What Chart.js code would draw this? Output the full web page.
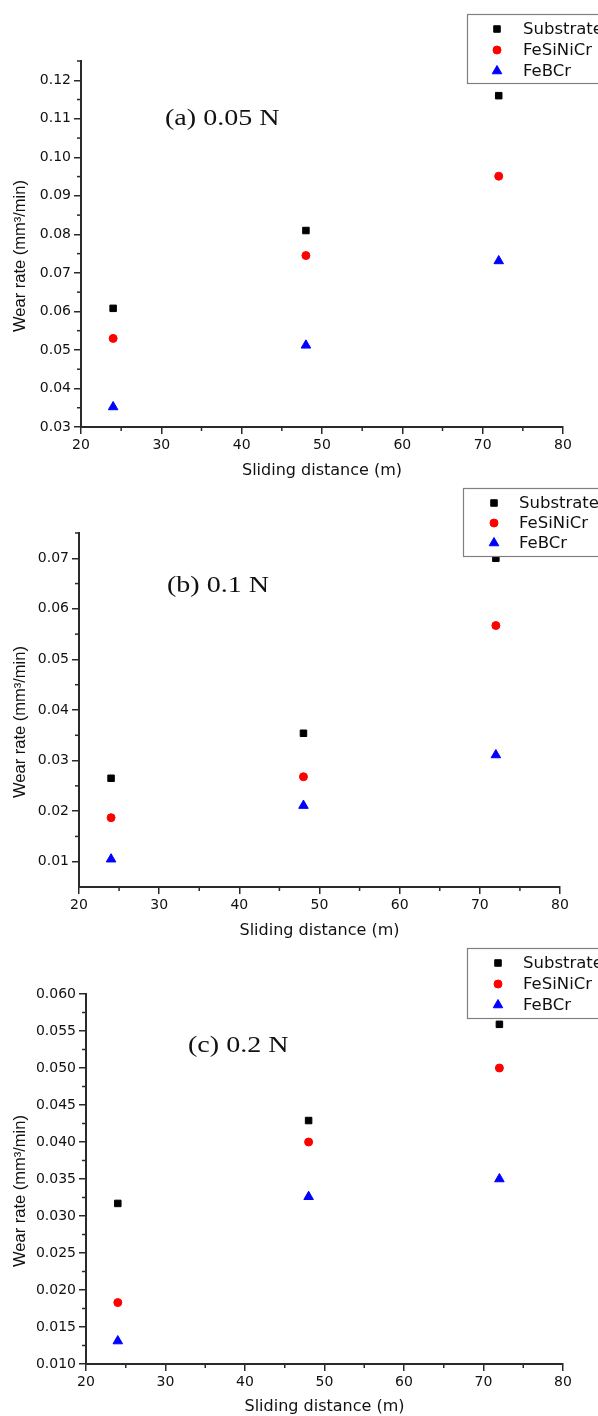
<!DOCTYPE html>
<html lang="en">
  <head>
    <meta charset="utf-8" />
    <title>Wear rate vs sliding distance</title>
    <style>
      * { margin: 0; padding: 0; }
      body { width: 598px; height: 1416px; background: #fff; position: relative; overflow: hidden; }
      canvas { position: absolute; left: 0; }
    </style>
  </head>
  <body>
    <canvas id="chartA" width="598" height="480" style="top:0px"></canvas>
    <canvas id="chartB" width="598" height="460" style="top:480px"></canvas>
    <canvas id="chartC" width="598" height="476" style="top:940px"></canvas>

    <script src="https://cdn.jsdelivr.net/npm/chart.js"></script>
    <script>
      // sliding distance (m)
      const distance = [24, 48, 72];
      const seriesNames = ["Substrate", "FeSiNiCr", "FeBCr"];

      // (a) 0.05 N
      const substrateA = [0.0608, 0.081, 0.116];
      const feSiNiCrA = [0.053, 0.0745, 0.0951];
      const feBCrA = [0.0352, 0.0512, 0.0731];
      // (b) 0.1 N
      const substrateB = [0.0265, 0.0354, 0.07];
      const feSiNiCrB = [0.0187, 0.0268, 0.0567];
      const feBCrB = [0.0105, 0.0211, 0.0311];
      // (c) 0.2 N
      const substrateC = [0.0317, 0.0429, 0.0559];
      const feSiNiCrC = [0.0183, 0.04, 0.05];
      const feBCrC = [0.0131, 0.0326, 0.035];

      const xTicks = [20, 30, 40, 50, 60, 70, 80];
      const yTicksA = [0.03, 0.04, 0.05, 0.06, 0.07, 0.08, 0.09, 0.1, 0.11, 0.12];
      const yTicksB = [0.01, 0.02, 0.03, 0.04, 0.05, 0.06, 0.07];
      const yTicksC = [0.01, 0.015, 0.02, 0.025, 0.03, 0.035, 0.04, 0.045, 0.05, 0.055, 0.06];

      const SANS = "'DejaVu Sans', sans-serif";
      const AXIS = "#2a2a2a";
      const TEXT = "#111";

      const styles = [
        { pointStyle: "rect", radius: 4.6, color: "#000000" },
        { pointStyle: "circle", radius: 4, color: "#ff0000" },
        { pointStyle: "triangle", radius: 5.5, color: "#0000ff" },
      ];

      function pts(ys) {
        return distance.map((x, i) => ({ x: x, y: ys[i] }));
      }

      function drawMarker(ctx, st, x, y) {
        ctx.save();
        ctx.fillStyle = st.color;
        ctx.strokeStyle = st.color;
        ctx.lineWidth = 1;
        if (Chart.helpers && Chart.helpers.drawPoint) {
          Chart.helpers.drawPoint(ctx, { pointStyle: st.pointStyle, radius: st.radius, borderWidth: 1, rotation: 0 }, x, y);
        }
        ctx.restore();
      }

      // minor ticks, y title, panel label and the boxed legend
      const decor = {
        id: "decor",
        afterDraw(chart, args, opts) {
          const { ctx, chartArea: { left, right, top, bottom }, scales: { x, y } } = chart;
          ctx.save();
          ctx.strokeStyle = AXIS;
          ctx.lineWidth = 1.5;
          // x minor ticks
          for (let i = 0; i < xTicks.length - 1; i++) {
            const px = x.getPixelForValue((xTicks[i] + xTicks[i + 1]) / 2);
            ctx.beginPath();
            ctx.moveTo(px, bottom);
            ctx.lineTo(px, bottom + 4);
            ctx.stroke();
          }
          // y minor ticks
          const yt = opts.yTicks;
          const step = yt[1] - yt[0];
          for (let v = yt[0] + step / 2; v <= y.max + 1e-9; v += step) {
            const py = y.getPixelForValue(v);
            ctx.beginPath();
            ctx.moveTo(left, py);
            ctx.lineTo(left - 4, py);
            ctx.stroke();
          }

          // y title
          ctx.save();
          ctx.translate(20, (top + bottom) / 2 + 12);
          ctx.rotate(-Math.PI / 2);
          ctx.font = "16.5px 'Liberation Sans', Arial, sans-serif";
          ctx.fillStyle = TEXT;
          ctx.textAlign = "center";
          ctx.textBaseline = "middle";
          ctx.fillText("Wear rate (mm³/min)", 0, 0);
          ctx.restore();

          // panel label
          ctx.save();
          ctx.translate(opts.labelX, opts.labelY);
          ctx.scale(1.22, 1);
          ctx.font = "23px 'Liberation Serif', 'Times New Roman', serif";
          ctx.fillStyle = TEXT;
          ctx.textAlign = "left";
          ctx.textBaseline = "alphabetic";
          ctx.fillText(opts.label, 0, 0);
          ctx.restore();

          // legend box
          const lg = opts.legend;
          ctx.fillStyle = "#fff";
          ctx.fillRect(lg.x, lg.y, 200, lg.h);
          ctx.strokeStyle = "#808080";
          ctx.lineWidth = 1.2;
          ctx.strokeRect(lg.x + 0.5, lg.y + 0.5, 200, lg.h);
          ctx.font = "16.5px " + SANS;
          ctx.textBaseline = "middle";
          ctx.textAlign = "left";
          seriesNames.forEach((name, i) => {
            const ry = lg.y + lg.first + i * lg.gap;
            drawMarker(ctx, styles[i], lg.markerX, ry);
            ctx.fillStyle = TEXT;
            ctx.fillText(name, lg.textX, ry + 1);
          });
          ctx.restore();
        },
      };

      function makePanel(id, p) {
        const canvas = document.getElementById(id);
        const H = canvas.height;
        const sets = [p.sub, p.feSi, p.feB].map((ys, i) => ({
          label: seriesNames[i],
          data: pts(ys),
          pointStyle: styles[i].pointStyle,
          pointRadius: styles[i].radius,
          pointBorderWidth: 1,
          backgroundColor: styles[i].color,
          borderColor: styles[i].color,
          showLine: false,
        }));
        return new Chart(canvas, {
          type: "scatter",
          data: { datasets: sets },
          options: {
            responsive: false,
            animation: false,
            layout: { padding: { left: 0, right: 598 - p.R, top: p.T, bottom: 0 } },
            plugins: {
              legend: { display: false },
              tooltip: { enabled: false },
              decor: p.decor,
            },
            scales: {
              x: {
                type: "linear",
                min: 20,
                max: 80,
                afterBuildTicks: (s) => { s.ticks = xTicks.map((v) => ({ value: v })); },
                afterFit: (s) => { s.height = H - p.B; },
                ticks: { font: { family: SANS, size: 14 }, color: TEXT, padding: 3, maxRotation: 0 },
                grid: { drawOnChartArea: false, tickLength: 7, color: AXIS, lineWidth: 1.5 },
                border: { color: AXIS, width: 2 },
                title: { display: true, text: "Sliding distance (m)", font: { family: SANS, size: 16 }, color: TEXT, padding: 0 },
              },
              y: {
                type: "linear",
                min: p.yMin,
                max: p.yMax,
                afterBuildTicks: (s) => { s.ticks = p.decor.yTicks.map((v) => ({ value: v })); },
                afterFit: (s) => { s.width = p.L; },
                ticks: {
                  font: { family: SANS, size: 14 },
                  color: TEXT,
                  padding: 3,
                  callback: (v) => Number(v).toFixed(p.dec),
                },
                grid: { drawOnChartArea: false, tickLength: 7, color: AXIS, lineWidth: 1.5 },
                border: { color: AXIS, width: 2 },
              },
            },
          },
          plugins: [decor],
        });
      }

      makePanel("chartA", {
        sub: substrateA, feSi: feSiNiCrA, feB: feBCrA,
        L: 81, R: 563, T: 61, B: 427, yMin: 0.03, yMax: 0.125, dec: 2,
        decor: {
          yTicks: yTicksA, label: "(a) 0.05 N", labelX: 165, labelY: 125,
          legend: { x: 467, y: 14, h: 69, first: 15, gap: 21, markerX: 497, textX: 523 },
        },
      });
      makePanel("chartB", {
        sub: substrateB, feSi: feSiNiCrB, feB: feBCrB,
        L: 79, R: 560, T: 53, B: 407, yMin: 0.005, yMax: 0.075, dec: 2,
        decor: {
          yTicks: yTicksB, label: "(b) 0.1 N", labelX: 167, labelY: 112,
          legend: { x: 463, y: 8, h: 68, first: 15, gap: 20, markerX: 494, textX: 519 },
        },
      });
      makePanel("chartC", {
        sub: substrateC, feSi: feSiNiCrC, feB: feBCrC,
        L: 86, R: 563, T: 54, B: 424, yMin: 0.01, yMax: 0.06, dec: 3,
        decor: {
          yTicks: yTicksC, label: "(c) 0.2 N", labelX: 188, labelY: 112,
          legend: { x: 467, y: 8, h: 70, first: 15, gap: 21, markerX: 498, textX: 523 },
        },
      });
    </script>
  </body>
</html>
